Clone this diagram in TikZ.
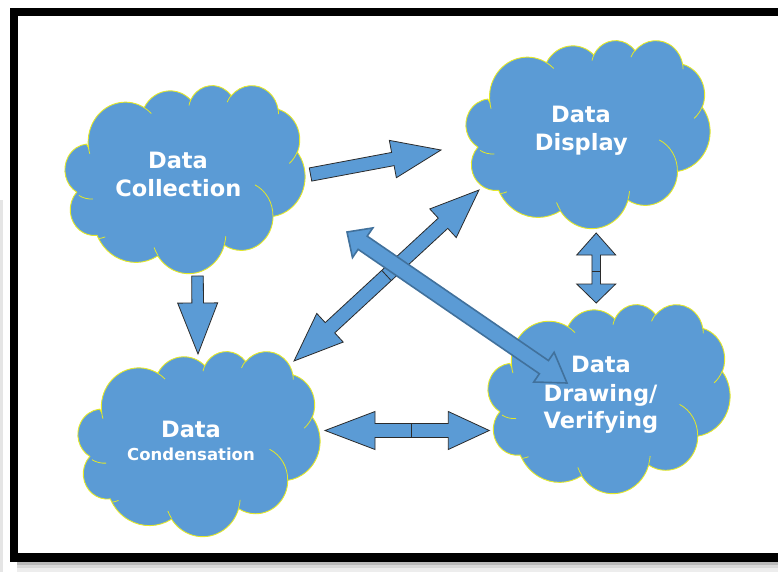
\documentclass[tikz,border=0pt]{standalone}
\usepackage{fontspec}
\setmainfont{DejaVu Sans}
\usetikzlibrary{calc}
\definecolor{cblue}{HTML}{5B9BD5}
\definecolor{cline}{RGB}{228,232,40}
\definecolor{aline}{HTML}{2B2B2B}
\definecolor{dblue}{HTML}{41719C}

% convert an OOXML arc (visual angles) to a TikZ arc (parametric angles)
\newcommand\setarc[5]{%
  \pgfmathsetmacro\tmpa{atan2((#2)*sin(#4),(#3)*cos(#4))}%
  \pgfmathsetmacro\tmpb{atan2((#2)*sin((#4)+(#5)),(#3)*cos((#4)+(#5)))}%
  \pgfmathsetmacro\tmpc{mod((\tmpb)-(\tmpa)+720,360)}%
  \expandafter\xdef\csname #1\endcsname{arc[start angle=\tmpa, delta angle=\tmpc, x radius=#2, y radius=#3]}%
}
\setarc{cloudA}{67.53}{91.90}{-190.48748}{123.78053}
\setarc{cloudB}{53.33}{72.67}{-144.10238}{89.94523}
\setarc{cloudC}{43.65}{59.45}{-145.80792}{99.72302}
\setarc{cloudD}{48.57}{65.95}{-130.98607}{117.24173}
\setarc{cloudE}{53.33}{72.73}{-78.70888}{109.02692}
\setarc{cloudF}{67.75}{92.20}{-46.26725}{130.269}
\setarc{cloudG}{57.85}{78.67}{0.62502}{114.03333}
\setarc{cloudH}{67.52}{92.15}{22.4516}{115.17255}
\setarc{cloudI}{77.20}{105.43}{66.24263}{82.27447}
\setarc{cloudJ}{43.60}{59.18}{-274.94208}{146.73557}
\setarc{cloudK}{43.45}{59.45}{-246.8285}{152.51885}
\setarc{creaseA}{43.45}{59.45}{86.742}{26.4295}
\setarc{creaseB}{43.60}{59.18}{73.61047}{11.44747}
\setarc{creaseC}{67.52}{92.15}{137.62415}{14.0811}
\setarc{creaseD}{67.52}{92.15}{6.45327}{15.99835}
\setarc{creaseE}{57.85}{78.67}{-70.29235}{70.91737}
\setarc{creaseF}{53.33}{72.73}{30.31803}{27.7515}
\setarc{creaseG}{48.57}{65.95}{-13.74433}{14.8589}
\setarc{creaseH}{48.57}{65.95}{-149.18145}{18.19537}
\setarc{creaseI}{43.65}{59.45}{-163.49427}{17.68635}
\setarc{creaseJ}{67.53}{91.90}{-66.70695}{12.31935}
\setarc{creaseK}{67.53}{91.90}{157.65435}{11.85817}

\newcommand\cloudshape[4]{%
  \pgfmathsetmacro\cw{#3/432}\pgfmathsetmacro\ch{#4/432}%
  \begin{scope}[shift={(#1,#2)},x=\cw pt,y=-\ch pt]
    \path[cloudbody] (39.00,143.70) \cloudA\cloudB\cloudC\cloudD\cloudE\cloudF\cloudG\cloudH\cloudI\cloudJ\cloudK -- cycle;
    \draw[cloudcrease] (46.93,261.77) \creaseA (69.28,348.99) \creaseB
      (164.78,390.90) \creaseC (288.27,347.51) \creaseD (341.29,229.54) \creaseE
      (417.98,153.54) \creaseF (383.24,54.26) \creaseG (290.78,39.52) \creaseH
      (221.41,47.20) \creaseI (140.00,51.92) \creaseJ (41.27,157.89) \creaseK;
  \end{scope}}

% single block arrow: [style]{tail}{tip}{shaft half width}{head half width}{head length}
\newcommand\blockarrow[6][]{%
  \coordinate (hb) at ($(#3)!#6!(#2)$);
  \draw[blockarrow,#1] ($(#2)!#4!90:(#3)$) -- ($(hb)!#4!90:(#3)$) -- ($(hb)!#5!90:(#3)$)
    -- (#3) -- ($(hb)!#5!-90:(#3)$) -- ($(hb)!#4!-90:(#3)$) -- ($(#2)!#4!-90:(#3)$) -- cycle;
}
% double block arrow: [style]{tipA}{tipB}{shaft half}{head half}{head len A}{head len B}
\newcommand\dblarrow[7][]{%
  \coordinate (ha) at ($(#2)!#6!(#3)$);
  \coordinate (hbb) at ($(#3)!#7!(#2)$);
  \draw[blockarrow,#1] (#2) -- ($(ha)!#5!90:(#3)$) -- ($(ha)!#4!90:(#3)$)
    -- ($(hbb)!#4!-90:(#2)$) -- ($(hbb)!#5!-90:(#2)$) -- (#3)
    -- ($(hbb)!#5!90:(#2)$) -- ($(hbb)!#4!90:(#2)$)
    -- ($(ha)!#4!-90:(#3)$) -- ($(ha)!#5!-90:(#3)$) -- cycle;
}
\newcommand\seam[3]{% at, toward, half width
  \draw[aline,line width=0.8pt] ($(#1)!#3!90:(#2)$) -- ($(#1)!#3!-90:(#2)$);
}

\begin{document}
\begin{tikzpicture}[x=1pt,y=-1pt,
  cloudbody/.style={fill=cblue,draw=cline,line width=0.9pt},
  cloudcrease/.style={draw=cline,line width=0.8pt},
  blockarrow/.style={fill=cblue,draw=aline,line width=0.8pt,line join=miter},
  darkarrow/.style={draw=dblue,line width=1.6pt},
  lbl/.style={text=white,font=\bfseries\fontsize{22.5}{27}\selectfont,anchor=base,inner sep=0pt},
  lblsmall/.style={lbl,font=\bfseries\fontsize{16.5}{20}\selectfont}]
\useasboundingbox (0,0) rectangle (778,572);
\fill[white] (0,0) rectangle (778,572);
% frame and shadow
\fill[gray!20] (0,200) rectangle (3,572);
\fill[gray!55] (17,562) rectangle (790,565);
\fill[gray!30] (17,565) rectangle (790,568);
\fill[gray!14] (17,568) rectangle (790,572);
\draw[black,line width=8.5pt,line join=miter] (795,12) -- (14,12) -- (14,557.5) -- (795,557.5);

% clouds
\cloudshape{67}{85}{238}{188}
\cloudshape{468}{40}{242}{188}
\cloudshape{490}{304}{240}{189}
\cloudshape{80}{351}{240}{185}

% arrow end points
\coordinate (colR) at (310.5,174.5);
\coordinate (dispL) at (441,150);
\coordinate (colB) at (197.5,276);
\coordinate (conT) at (198,354);
\coordinate (conTR) at (294,361);
\coordinate (dispBL) at (479,190);
\coordinate (dispMid) at (347,232);
\coordinate (drwTL) at (567,383);
\coordinate (dispB) at (596.2,233);
\coordinate (drwT) at (596.2,303);
\coordinate (conR) at (325,430.5);
\coordinate (drwL) at (489.3,430.5);

\blockarrow{colR}{dispL}{6.7pt}{19pt}{49pt}
\blockarrow{colB}{conT}{5.8pt}{20pt}{51pt}
\dblarrow{conTR}{dispBL}{7pt}{19.5pt}{49pt}{49pt}
\coordinate (m3) at ($(conTR)!0.5!(dispBL)$);
\seam{m3}{dispBL}{7pt}
\dblarrow{dispB}{drwT}{4.3pt}{19.5pt}{22pt}{19pt}
\coordinate (m5) at (596.2,271);
\seam{m5}{drwT}{4.3pt}
\dblarrow{conR}{drwL}{7pt}{19pt}{50pt}{41pt}
\coordinate (m6) at (411.5,430.5);
\seam{m6}{drwL}{7pt}
\dblarrow[darkarrow]{dispMid}{drwTL}{8pt}{18pt}{19pt}{28pt}

% labels
\node[lbl] (c1a) at (178,168) {Data};
\node[lbl] (c1b) at (178.3,196) {Collection};
\node[lbl] (c2a) at (581,122.7) {Data};
\node[lbl] (c2b) at (581.3,150) {Display};
\node[lbl] (c3a) at (601,372.3) {Data};
\node[lbl] (c3b) at (600.5,401) {Drawing/};
\node[lbl] (c3c) at (601,428.3) {Verifying};
\node[lbl] (c4a) at (191,437) {Data};
\node[lblsmall] (c4b) at (191,460.7) {Condensation};
\end{tikzpicture}
\end{document}
